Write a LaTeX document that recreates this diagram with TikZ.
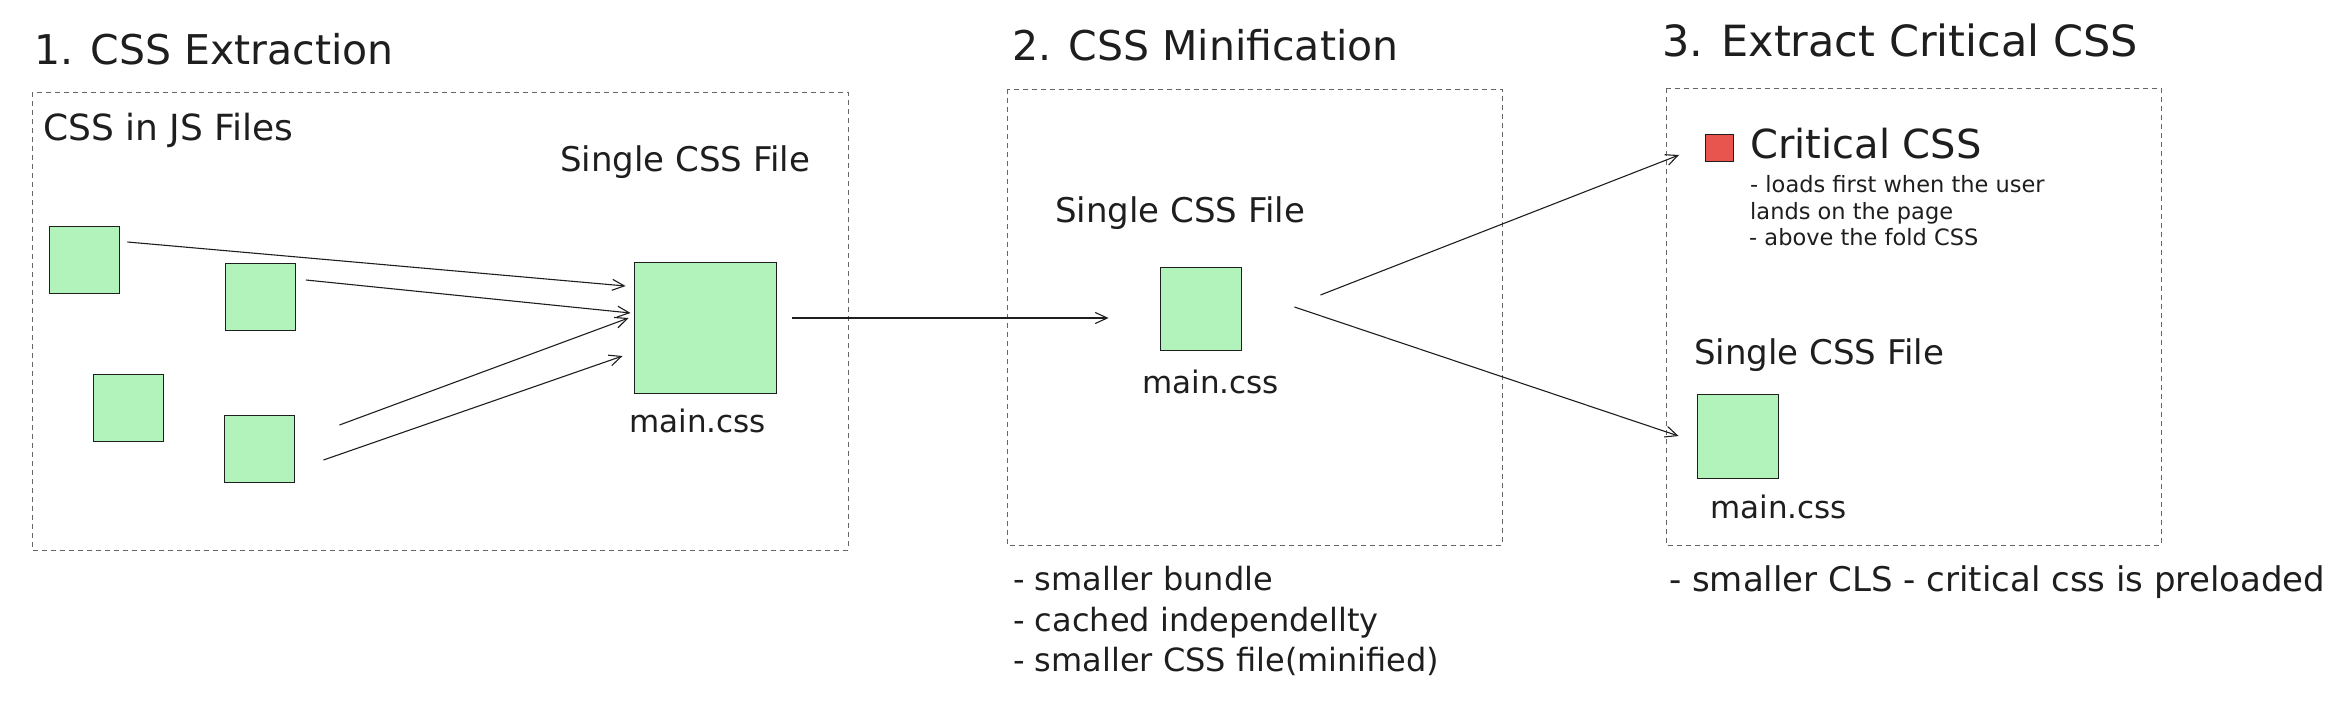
\documentclass[tikz,border=0pt]{standalone}
\usepackage{fontspec}
\setmainfont{DejaVu Sans}
\usetikzlibrary{arrows.meta}
\definecolor{ink}{HTML}{1E1E1E}
\definecolor{mint}{HTML}{B2F2BB}
\definecolor{crit}{HTML}{E8554E}
\definecolor{frameg}{HTML}{666666}
\begin{document}
\begin{tikzpicture}[x=1pt,y=-1pt]
  \tikzstyle{file}=[rectangle, draw=ink, fill=mint, line width=0.9pt, inner sep=0pt]
  \tikzstyle{frame}=[draw=frameg, line width=0.9pt, dash pattern=on 5pt off 4pt]
  \tikzstyle{arr}=[draw=ink, line width=1.1pt, -{Straight Barb[length=12pt,width=11pt]}]
  \tikzstyle{txt}=[anchor=base west, inner sep=0pt, text=ink]
  \tikzstyle{head}=[txt, font=\fontsize{41}{49}\selectfont]
  \tikzstyle{lbl}=[txt, font=\fontsize{34}{40}\selectfont]
  \tikzstyle{fname}=[txt, font=\fontsize{31}{36}\selectfont]
  \tikzstyle{note}=[txt, font=\fontsize{32}{40}\selectfont]
  \tikzstyle{small}=[txt, font=\fontsize{22.5}{27}\selectfont]
  \useasboundingbox (0,0) rectangle (2349,726);
  % frames
  \draw[frame] (32,92) rectangle (848,550);
  \draw[frame] (1007,89) rectangle (1502,545);
  \draw[frame] (1666,88) rectangle (2161,545);
  % titles
  \node[head] (T-1) at (34,64) {1. CSS Extraction};
  \node[head] (T-2) at (1012,60) {2. CSS Minification};
  \node[head, font=\fontsize{43}{49}\selectfont] (T-3) at (1662,56) {3. Extract Critical CSS};
  % step 1
  \node[lbl, font=\fontsize{36}{40}\selectfont] (L-js) at (43,140) {CSS in JS Files};
  \node[lbl] (L-1) at (560,171) {Single CSS File};
  \foreach \i/\x/\y in {1/84/259.5,2/260.5/296.5,3/128.5/408,4/259/448.5}
    \node[file, minimum width=70pt, minimum height=67pt]
      (J-\i) at (\x,\y) {};
  \node[file, minimum width=142pt, minimum height=131pt]
    (M-1) at (705,327.5) {};
  \node[fname] (N-1) at (629,432) {main.css};
  \foreach \i/\sx/\sy/\ex/\ey in
    {1/8/-17.5/-8/-41.5,2/10/-16.5/-3/-14.5,4/45/-23.5/-5/-9.5,4/29/11.5/-11/28.5}
    \draw[arr]
      ([shift={(\sx,\sy)}]J-\i.east) -- ([shift={(\ex,\ey)}]M-1.west);
  % step 2
  \node[lbl] (L-2) at (1055,222) {Single CSS File};
  \node[file, minimum width=81pt, minimum height=83pt]
    (M-2) at (1200.5,308.5) {};
  \node[fname] (N-2) at (1142,393) {main.css};
  \draw[arr] ([shift={(16,-9.5)}]M-1.east) -- ([shift={(-51,9.5)}]M-2.west);
  \foreach \k/\y/\t in
    {1/590/- smaller bundle,2/631/- cached independellty,3/671/- smaller CSS file(minified)}
    \node[note] (B-\k) at (1013,\y) {\t};
  % step 3
  \node[rectangle, draw=ink, fill=crit, line width=0.9pt, inner sep=0pt,
    minimum width=28pt, minimum height=27pt] (R) at (1719.5,148) {};
  \node[txt, font=\fontsize{40}{48}\selectfont] (L-crit) at (1750,158) {Critical CSS};
  \foreach \k/\x/\y/\t in
    {1/1750/192/- loads first when the user,2/1750/219/lands on the page,3/1749/245/- above the fold CSS}
    \node[small] (S-\k) at (\x,\y) {\t};
  \node[lbl] (L-3) at (1694,364) {Single CSS File};
  \node[file, minimum width=81pt, minimum height=84pt]
    (M-3) at (1737.5,436) {};
  \node[fname] (N-3) at (1710,518) {main.css};
  \draw[arr] ([shift={(79,-13.5)}]M-2.east) -- ([shift={(-26,7)}]R.west);
  \draw[arr] ([shift={(53,-1.5)}]M-2.east) -- ([shift={(-18,0)}]M-3.west);
  \node[txt, font=\fontsize{34}{40}\selectfont] (B-crit) at (1669,591)
    {- smaller CLS - critical css is preloaded};
\end{tikzpicture}
\end{document}
